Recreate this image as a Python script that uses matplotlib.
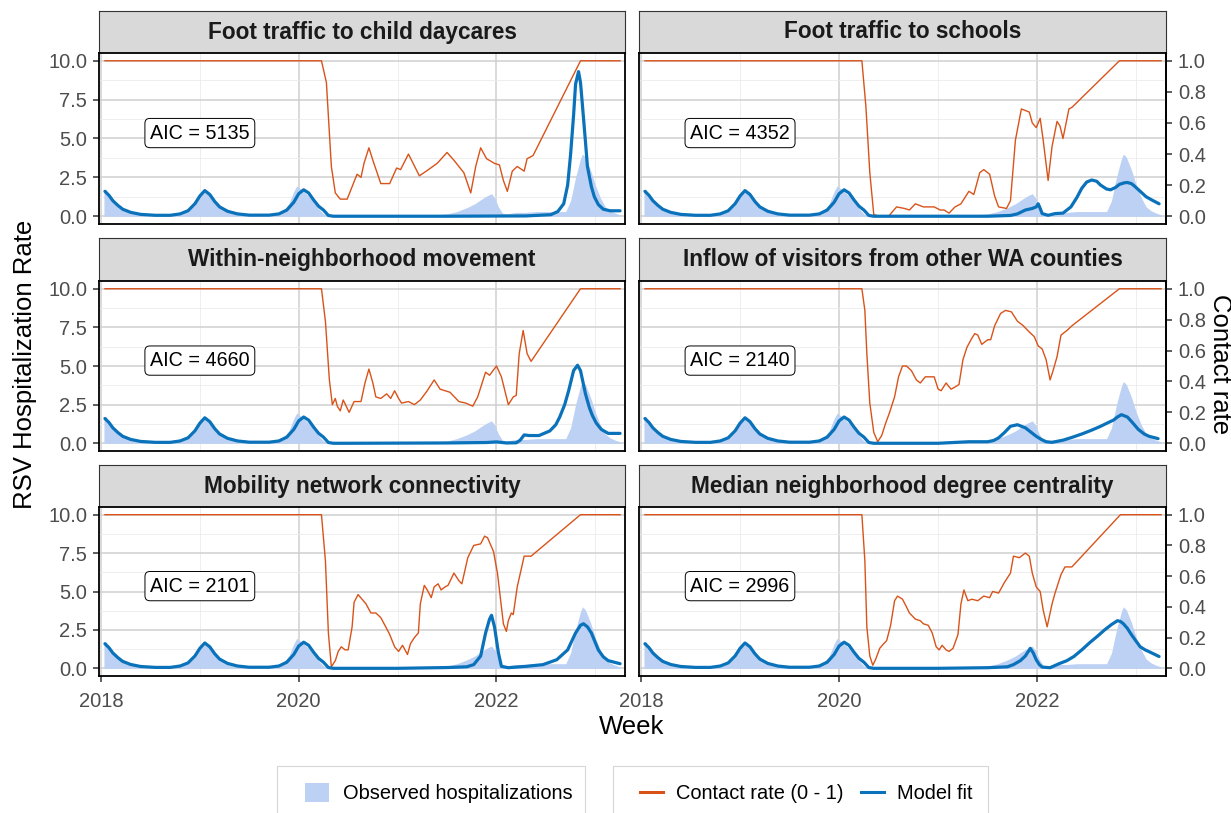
import matplotlib.pyplot as plt
import matplotlib.transforms as mtransforms
from matplotlib.patches import Patch, Rectangle
from matplotlib.lines import Line2D

plt.rcParams['font.family'] = ['Liberation Sans', 'DejaVu Sans']

orange = '#d95319'
blue = '#0a72ba'
obs_color = '#bcd1f4'

# ---- data ----
obs_x = [2018.03, 2018.05, 2018.08, 2018.12, 2018.17, 2018.22, 2018.30, 2018.40, 2018.50, 2018.70,
         2018.80, 2018.88, 2018.95, 2019.00, 2019.05, 2019.10, 2019.15, 2019.20, 2019.28, 2019.35,
         2019.45, 2019.60, 2019.75, 2019.83, 2019.90, 2019.95, 2019.98, 2020.03, 2020.10, 2020.15,
         2020.20, 2020.25, 2020.30, 2020.50, 2021.00, 2021.30, 2021.40, 2021.50, 2021.60, 2021.70,
         2021.78, 2021.85, 2021.90, 2021.95, 2021.98, 2022.02, 2022.06, 2022.10, 2022.20, 2022.30,
         2022.40, 2022.50, 2022.60, 2022.70, 2022.75, 2022.80, 2022.85, 2022.87, 2022.90, 2022.95,
         2023.00, 2023.05, 2023.10, 2023.15, 2023.20, 2023.25]
obs_y = [1.7, 1.75, 1.3, 0.95, 0.65, 0.45, 0.3, 0.15, 0.08, 0.06,
         0.12, 0.3, 0.7, 1.25, 1.55, 1.35, 0.95, 0.65, 0.4, 0.3,
         0.12, 0.06, 0.08, 0.25, 0.8, 1.6, 1.95, 1.7, 1.3, 0.9,
         0.5, 0.15, 0.03, 0.02, 0.03, 0.05, 0.1, 0.15, 0.3, 0.55,
         0.8, 1.1, 1.3, 1.45, 1.2, 0.6, 0.2, 0.15, 0.25, 0.25,
         0.3, 0.3, 0.3, 0.3, 1.0, 2.5, 3.7, 4.0, 3.8, 3.0,
         2.0, 1.2, 0.6, 0.35, 0.2, 0.1]

# model fit before 2020.35 is the same in every panel
fit_early_x = [2018.04, 2018.08, 2018.12, 2018.17, 2018.22, 2018.30, 2018.40, 2018.55, 2018.70, 2018.80,
               2018.88, 2018.95, 2019.00, 2019.05, 2019.10, 2019.15, 2019.20, 2019.28, 2019.38, 2019.50,
               2019.70, 2019.80, 2019.88, 2019.95, 2020.00, 2020.05, 2020.10, 2020.15, 2020.20, 2020.25,
               2020.30, 2020.35]
fit_early_y = [1.6, 1.35, 1.0, 0.7, 0.45, 0.25, 0.12, 0.06, 0.06, 0.15,
               0.35, 0.8, 1.3, 1.65, 1.4, 0.95, 0.6, 0.32, 0.15, 0.07,
               0.07, 0.15, 0.4, 0.9, 1.45, 1.7, 1.5, 1.05, 0.65, 0.4,
               0.05, 0.0]

titles = ['Foot traffic to child daycares', 'Foot traffic to schools',
          'Within-neighborhood movement', 'Inflow of visitors from other WA counties',
          'Mobility network connectivity', 'Median neighborhood degree centrality']
aic = [5135, 4352, 4660, 2140, 2101, 2996]

# contact rate (0 - 1)
cr_daycare_x = [2018.04, 2020.23, 2020.28, 2020.33, 2020.37, 2020.42, 2020.49, 2020.54, 2020.59, 2020.63,
                2020.66, 2020.71, 2020.75, 2020.83, 2020.92, 2020.99, 2021.03, 2021.11, 2021.22, 2021.29,
                2021.40, 2021.50, 2021.57, 2021.67, 2021.74, 2021.79, 2021.84, 2021.90, 2021.98, 2022.03,
                2022.07, 2022.11, 2022.16, 2022.21, 2022.28, 2022.31, 2022.37, 2022.85, 2023.25]
cr_daycare_y = [1.0, 1.0, 0.86, 0.32, 0.15, 0.11, 0.11, 0.19, 0.27, 0.25,
                0.34, 0.44, 0.36, 0.21, 0.21, 0.31, 0.30, 0.40, 0.26, 0.29,
                0.34, 0.41, 0.36, 0.28, 0.15, 0.32, 0.44, 0.37, 0.34, 0.33,
                0.23, 0.16, 0.29, 0.32, 0.29, 0.37, 0.39, 1.0, 1.0]

cr_school_x = [2018.04, 2020.23, 2020.27, 2020.31, 2020.35, 2020.41, 2020.50, 2020.58, 2020.66, 2020.71,
               2020.77, 2020.85, 2020.96, 2021.02, 2021.06, 2021.11, 2021.17, 2021.23, 2021.31, 2021.36,
               2021.42, 2021.46, 2021.52, 2021.57, 2021.61, 2021.69, 2021.73, 2021.78, 2021.84, 2021.92,
               2021.95, 2021.99, 2022.03, 2022.06, 2022.11, 2022.15, 2022.20, 2022.23, 2022.26, 2022.32,
               2022.35, 2022.83, 2023.25]
cr_school_y = [1.0, 1.0, 0.71, 0.28, 0.01, 0.0, 0.0, 0.06, 0.05, 0.04,
               0.08, 0.06, 0.06, 0.04, 0.04, 0.02, 0.06, 0.08, 0.16, 0.14,
               0.28, 0.30, 0.27, 0.13, 0.06, 0.05, 0.10, 0.49, 0.69, 0.67,
               0.60, 0.57, 0.63, 0.49, 0.23, 0.45, 0.61, 0.58, 0.50, 0.69,
               0.70, 1.0, 1.0]

cr_within_x = [2018.04, 2020.23, 2020.27, 2020.31, 2020.34, 2020.37, 2020.39, 2020.42, 2020.45, 2020.48,
               2020.51, 2020.56, 2020.63, 2020.67, 2020.71, 2020.75, 2020.78, 2020.83, 2020.89, 2020.93,
               2020.97, 2021.01, 2021.04, 2021.11, 2021.17, 2021.23, 2021.30, 2021.37, 2021.43, 2021.53,
               2021.62, 2021.69, 2021.76, 2021.81, 2021.89, 2021.93, 2022.00, 2022.05, 2022.12, 2022.17,
               2022.20, 2022.23, 2022.27, 2022.31, 2022.35, 2022.85, 2023.25]
cr_within_y = [1.0, 1.0, 0.79, 0.41, 0.25, 0.29, 0.24, 0.21, 0.28, 0.24,
               0.20, 0.27, 0.27, 0.39, 0.48, 0.39, 0.30, 0.29, 0.32, 0.29,
               0.34, 0.29, 0.26, 0.27, 0.25, 0.28, 0.34, 0.41, 0.35, 0.33,
               0.27, 0.26, 0.24, 0.30, 0.46, 0.44, 0.50, 0.43, 0.25, 0.30,
               0.31, 0.58, 0.73, 0.58, 0.53, 1.0, 1.0]

cr_inflow_x = [2018.04, 2020.23, 2020.26, 2020.28, 2020.31, 2020.35, 2020.39, 2020.43, 2020.47, 2020.51,
               2020.56, 2020.60, 2020.64, 2020.68, 2020.73, 2020.78, 2020.82, 2020.87, 2020.92, 2020.96,
               2021.00, 2021.03, 2021.08, 2021.13, 2021.16, 2021.21, 2021.25, 2021.29, 2021.34, 2021.37,
               2021.40, 2021.44, 2021.50, 2021.53, 2021.57, 2021.63, 2021.68, 2021.74, 2021.80, 2021.86,
               2021.92, 2021.97, 2022.01, 2022.05, 2022.09, 2022.13, 2022.16, 2022.20, 2022.24, 2022.30,
               2022.35, 2022.83, 2023.25]
cr_inflow_y = [1.0, 1.0, 0.86, 0.58, 0.26, 0.07, 0.01, 0.05, 0.13, 0.20,
               0.30, 0.43, 0.50, 0.50, 0.47, 0.41, 0.39, 0.43, 0.43, 0.43,
               0.35, 0.34, 0.39, 0.35, 0.36, 0.38, 0.54, 0.62, 0.68, 0.71,
               0.70, 0.64, 0.67, 0.67, 0.76, 0.84, 0.86, 0.85, 0.79, 0.76,
               0.72, 0.69, 0.63, 0.61, 0.54, 0.41, 0.47, 0.56, 0.70, 0.73,
               0.76, 1.0, 1.0]

cr_mobility_x = [2018.04, 2020.23, 2020.27, 2020.30, 2020.33, 2020.37, 2020.40, 2020.43, 2020.47, 2020.50,
                 2020.54, 2020.56, 2020.60, 2020.64, 2020.68, 2020.73, 2020.78, 2020.83, 2020.88, 2020.92,
                 2020.97, 2021.01, 2021.05, 2021.10, 2021.13, 2021.17, 2021.21, 2021.23, 2021.27, 2021.30,
                 2021.34, 2021.37, 2021.41, 2021.44, 2021.48, 2021.51, 2021.57, 2021.62, 2021.65, 2021.71,
                 2021.77, 2021.84, 2021.88, 2021.91, 2021.97, 2022.01, 2022.05, 2022.07, 2022.10, 2022.12,
                 2022.15, 2022.17, 2022.21, 2022.28, 2022.35, 2022.85, 2023.25]
cr_mobility_y = [1.0, 1.0, 0.70, 0.23, 0.01, 0.05, 0.11, 0.14, 0.12, 0.12,
                 0.27, 0.43, 0.48, 0.45, 0.42, 0.36, 0.36, 0.33, 0.27, 0.22,
                 0.14, 0.11, 0.15, 0.09, 0.16, 0.20, 0.23, 0.42, 0.54, 0.51,
                 0.46, 0.53, 0.55, 0.51, 0.53, 0.54, 0.62, 0.57, 0.55, 0.72,
                 0.80, 0.81, 0.86, 0.85, 0.76, 0.62, 0.40, 0.29, 0.24, 0.31,
                 0.36, 0.35, 0.53, 0.73, 0.73, 1.0, 1.0]

cr_central_x = [2018.04, 2020.23, 2020.26, 2020.28, 2020.31, 2020.34, 2020.37, 2020.41, 2020.45, 2020.48,
                2020.52, 2020.56, 2020.59, 2020.64, 2020.68, 2020.71, 2020.77, 2020.82, 2020.85, 2020.90,
                2020.94, 2020.98, 2021.01, 2021.04, 2021.08, 2021.11, 2021.15, 2021.20, 2021.23, 2021.26,
                2021.30, 2021.34, 2021.40, 2021.46, 2021.52, 2021.55, 2021.61, 2021.67, 2021.73, 2021.76,
                2021.82, 2021.88, 2021.92, 2021.95, 2021.99, 2022.03, 2022.06, 2022.10, 2022.15, 2022.18,
                2022.24, 2022.28, 2022.35, 2022.84, 2023.25]
cr_central_y = [1.0, 1.0, 0.70, 0.27, 0.08, 0.02, 0.06, 0.13, 0.16, 0.18,
                0.28, 0.44, 0.47, 0.45, 0.40, 0.36, 0.32, 0.31, 0.29, 0.28,
                0.23, 0.14, 0.12, 0.15, 0.12, 0.11, 0.13, 0.22, 0.42, 0.51,
                0.44, 0.45, 0.44, 0.47, 0.46, 0.50, 0.49, 0.56, 0.62, 0.73,
                0.72, 0.75, 0.73, 0.62, 0.53, 0.50, 0.38, 0.27, 0.42, 0.49,
                0.61, 0.66, 0.66, 1.0, 1.0]

# model fit after 2020.35, per panel
fit_daycare_x = [2020.50, 2021.50, 2022.30, 2022.55, 2022.62, 2022.68, 2022.72, 2022.75, 2022.78, 2022.80,
                 2022.83, 2022.85, 2022.87, 2022.90, 2022.92, 2022.96, 2022.99, 2023.03, 2023.08, 2023.15,
                 2023.25]
fit_daycare_y = [0.0, 0.0, 0.02, 0.1, 0.3, 0.8, 2.0, 4.0, 6.5, 8.5,
                 9.3, 8.6, 7.1, 4.8, 3.2, 1.9, 1.25, 0.75, 0.45, 0.35,
                 0.35]

fit_school_x = [2020.50, 2021.50, 2021.73, 2021.80, 2021.88, 2021.95, 2021.99, 2022.01, 2022.03, 2022.05,
                2022.11, 2022.18, 2022.26, 2022.34, 2022.40, 2022.45, 2022.50, 2022.55, 2022.60, 2022.64,
                2022.70, 2022.74, 2022.79, 2022.83, 2022.88, 2022.91, 2022.95, 2022.98, 2023.04, 2023.10,
                2023.17, 2023.23]
fit_school_y = [0.0, 0.0, 0.05, 0.15, 0.4, 0.5, 0.6, 0.8, 0.5, 0.17,
                0.06, 0.17, 0.2, 0.6, 1.2, 1.8, 2.2, 2.33, 2.25, 2.0,
                1.75, 1.7, 1.85, 2.05, 2.15, 2.17, 2.1, 1.95, 1.6, 1.25,
                1.0, 0.8]

fit_within_x = [2020.50, 2021.50, 2021.90, 2022.00, 2022.10, 2022.20, 2022.24, 2022.28, 2022.33, 2022.43,
                2022.54, 2022.60, 2022.64, 2022.69, 2022.73, 2022.78, 2022.82, 2022.85, 2022.90, 2022.94,
                2022.97, 2023.01, 2023.06, 2023.13, 2023.25]
fit_within_y = [0.0, 0.02, 0.05, 0.09, 0.02, 0.03, 0.2, 0.54, 0.5, 0.5,
                0.8, 1.2, 1.7, 2.5, 3.4, 4.7, 5.05, 4.7, 3.2, 2.3,
                1.8, 1.3, 0.9, 0.64, 0.64]

fit_inflow_x = [2020.50, 2021.00, 2021.31, 2021.50, 2021.56, 2021.61, 2021.67, 2021.73, 2021.80, 2021.88,
                2021.94, 2021.99, 2022.04, 2022.09, 2022.15, 2022.26, 2022.35, 2022.45, 2022.55, 2022.64,
                2022.72, 2022.77, 2022.81, 2022.85, 2022.91, 2022.96, 2023.02, 2023.08, 2023.13, 2023.22]
fit_inflow_y = [0.0, 0.0, 0.1, 0.1, 0.18, 0.35, 0.7, 1.1, 1.2, 1.0,
                0.7, 0.45, 0.25, 0.1, 0.06, 0.2, 0.38, 0.6, 0.85, 1.1,
                1.35, 1.5, 1.7, 1.85, 1.7, 1.35, 0.9, 0.6, 0.45, 0.3]

fit_mobility_x = [2020.50, 2021.00, 2021.50, 2021.70, 2021.77, 2021.84, 2021.89, 2021.93, 2021.95, 2021.98,
                  2022.02, 2022.05, 2022.12, 2022.30, 2022.47, 2022.61, 2022.72, 2022.80, 2022.85, 2022.88,
                  2022.92, 2022.96, 2023.03, 2023.08, 2023.13, 2023.25]
fit_mobility_y = [0.0, 0.0, 0.05, 0.1, 0.24, 0.8, 2.3, 3.2, 3.45, 2.7,
                  1.0, 0.13, 0.04, 0.13, 0.24, 0.56, 1.2, 2.3, 2.8, 2.9,
                  2.7, 2.3, 1.2, 0.75, 0.5, 0.3]

fit_central_x = [2020.50, 2021.00, 2021.50, 2021.70, 2021.76, 2021.83, 2021.88, 2021.93, 2021.96, 2021.99,
                 2022.02, 2022.05, 2022.13, 2022.22, 2022.30, 2022.37, 2022.45, 2022.53, 2022.61, 2022.68,
                 2022.75, 2022.81, 2022.84, 2022.87, 2022.91, 2022.95, 2023.00, 2023.04, 2023.09, 2023.14,
                 2023.23]
fit_central_y = [0.0, 0.0, 0.04, 0.1, 0.24, 0.5, 0.8, 1.3, 1.0, 0.56,
                 0.25, 0.08, 0.04, 0.3, 0.5, 0.77, 1.2, 1.67, 2.1, 2.5,
                 2.85, 3.1, 3.05, 2.9, 2.6, 2.2, 1.75, 1.4, 1.2, 1.05,
                 0.77]

contact = [(cr_daycare_x, cr_daycare_y), (cr_school_x, cr_school_y), (cr_within_x, cr_within_y),
           (cr_inflow_x, cr_inflow_y), (cr_mobility_x, cr_mobility_y), (cr_central_x, cr_central_y)]
fits = [(fit_daycare_x, fit_daycare_y), (fit_school_x, fit_school_y), (fit_within_x, fit_within_y),
        (fit_inflow_x, fit_inflow_y), (fit_mobility_x, fit_mobility_y), (fit_central_x, fit_central_y)]

# ---- layout in pixels ----
W, H = 1231, 813
fig = plt.figure(figsize=(W / 100, H / 100), dpi=100)

def fx(px):
    return px / W

def fy(py):
    return 1 - py / H

col_px = [(99, 625), (639, 1166)]
row_px = [(53, 224), (281, 451), (507, 676)]
strip_px = [(11, 53), (238, 281), (465, 507)]

tick_col = '#333333'
lab_col = '#4d4d4d'

for i in range(6):
    r, c = divmod(i, 2)
    x0, x1 = col_px[c]
    y0, y1 = row_px[r]
    s0, s1 = strip_px[r]

    # strip
    sax = fig.add_axes([fx(x0), fy(s1), (x1 - x0) / W, (s1 - s0) / H])
    sax.set_facecolor('#d9d9d9')
    sax.set_xticks([])
    sax.set_yticks([])
    for sp in sax.spines.values():
        sp.set_color('#333333')
        sp.set_linewidth(0.8)
    sax.text(0.5, 0.5, titles[i], ha='center', va='center', fontsize=16.3,
             fontweight='bold', color='#1a1a1a', transform=sax.transAxes)

    ax = fig.add_axes([fx(x0), fy(y1), (x1 - x0) / W, (y1 - y0) / H])
    ax.set_xlim(2017.98, 2023.30)
    ax.set_ylim(-0.5, 10.5)
    ax.set_xticks([2018, 2020, 2022])
    ax.set_xticks([2019, 2021, 2023], minor=True)
    ax.set_yticks([0, 2.5, 5, 7.5, 10])
    ax.set_yticks([1.25, 3.75, 6.25, 8.75], minor=True)
    ax.set_yticklabels(['0.0', '2.5', '5.0', '7.5', '10.0'])
    ax.grid(which='major', color='#cfcfcf', linewidth=1.1)
    ax.grid(which='minor', color='#ebebeb', linewidth=0.6)
    ax.set_axisbelow(True)
    ax.tick_params(which='minor', length=0)
    ax.tick_params(which='major', colors=tick_col, labelcolor=lab_col, labelsize=14.5,
                   length=4.5, width=1.1, pad=4)
    ax.tick_params(axis='x', pad=7)
    if c == 1:
        ax.tick_params(axis='y', left=False, labelleft=False)
    if r < 2:
        ax.tick_params(axis='x', bottom=False, labelbottom=False)
    for sp in ax.spines.values():
        sp.set_color('black')
        sp.set_linewidth(1.3)

    ax.fill_between(obs_x, 0, obs_y, color=obs_color, linewidth=0, zorder=2)

    # contact rate lives on the 0-1 secondary scale
    cr_trans = mtransforms.Affine2D().scale(1, 10) + ax.transData
    ax.plot(contact[i][0], contact[i][1], color=orange, linewidth=1.0,
            transform=cr_trans, zorder=3)
    ax.plot(fit_early_x + fits[i][0], fit_early_y + fits[i][1], color=blue,
            linewidth=2.3, zorder=4, solid_capstyle='round')

    ax.text(2019.0, 5.35, f'AIC = {aic[i]}', ha='center', va='center', fontsize=14.2,
            color='black', zorder=5,
            bbox=dict(boxstyle='round,pad=0.26,rounding_size=0.25', fc='white',
                      ec='black', lw=0.7))

    if c == 1:
        sec = ax.secondary_yaxis('right', functions=(lambda v: v / 10, lambda v: v * 10))
        sec.set_yticks([0, 0.2, 0.4, 0.6, 0.8, 1.0])
        sec.set_yticklabels(['0.0', '0.2', '0.4', '0.6', '0.8', '1.0'])
        sec.tick_params(colors=tick_col, labelcolor=lab_col, labelsize=14.5,
                        length=4.5, width=1.1, pad=4)
        sec.spines['right'].set_color('black')
        sec.spines['right'].set_linewidth(1.3)

fig.text(fx(25), fy(364), 'RSV Hospitalization Rate', rotation=90, ha='center',
         va='center', fontsize=18.5)
fig.text(fx(1220), fy(364), 'Contact rate', rotation=-90, ha='center',
         va='center', fontsize=18.5)
fig.text(fx(632), fy(727), 'Week', ha='center', va='center', fontsize=18.5)

# ---- legends ----
fig.add_artist(Rectangle((fx(277), fy(830)), 308 / W, 64 / H, transform=fig.transFigure,
                         fill=False, ec='#d6d6d6', lw=0.8))
fig.add_artist(Rectangle((fx(613), fy(830)), 375 / W, 64 / H, transform=fig.transFigure,
                         fill=False, ec='#d6d6d6', lw=0.8))

fig.legend(handles=[Patch(fc=obs_color, ec='none', label='Observed hospitalizations')],
           loc='center left', bbox_to_anchor=(fx(305), fy(793)), frameon=False,
           fontsize=14.4, handlelength=1.2, handleheight=1.1, handletextpad=0.7,
           borderpad=0, borderaxespad=0)
fig.legend(handles=[Line2D([], [], color=orange, lw=2.2, label='Contact rate (0 - 1)'),
                    Line2D([], [], color=blue, lw=2.2, label='Model fit')],
           ncol=2, loc='center left', bbox_to_anchor=(fx(640), fy(793)), frameon=False,
           fontsize=14.4, handlelength=1.15, handletextpad=0.65, columnspacing=0.9,
           borderpad=0, borderaxespad=0)

fig.savefig('out.png', dpi=100)
